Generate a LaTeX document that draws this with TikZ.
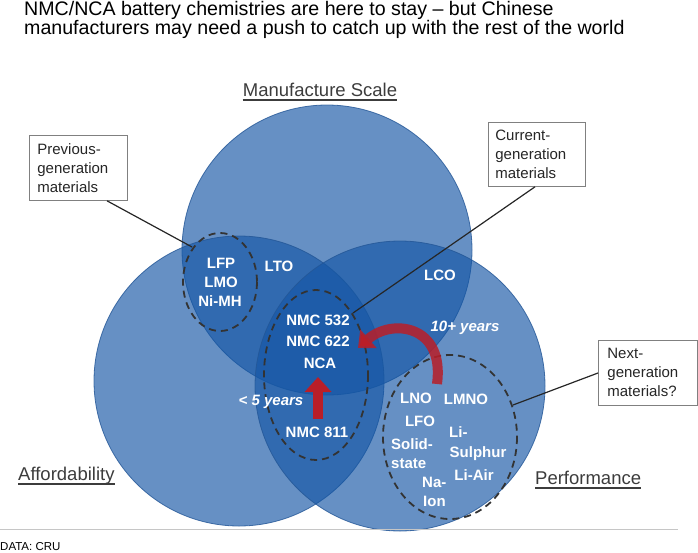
\documentclass[tikz,border=0pt]{standalone}
\usepackage{fontspec}
\setmainfont{Liberation Sans}
\usetikzlibrary{arrows.meta}
\definecolor{vblue}{RGB}{20,85,165}
\definecolor{vedge}{RGB}{35,85,150}
\definecolor{vred}{RGB}{185,30,40}
\definecolor{labgray}{RGB}{60,60,60}
\begin{document}
\begin{tikzpicture}[x=1pt,y=-1pt,
  venn/.style={fill=vblue,fill opacity=0.65,draw=vedge,draw opacity=0.8,line width=0.8pt},
  group/.style={draw=black!80,dash pattern=on 7pt off 5pt,line width=1.8pt},
  mat/.style={text=white,font=\fontsize{15}{17}\selectfont\bfseries,inner sep=0pt,anchor=base},
  yrs/.style={text=white,font=\fontsize{15}{17}\selectfont\bfseries\itshape,inner sep=0pt,anchor=base},
  callout/.style={draw=gray,fill=white,line width=0.8pt,align=left,
    font=\fontsize{15}{19}\selectfont,text=black!85,anchor=north west,inner ysep=0pt},
  lead/.style={draw=black!85,line width=1.2pt},
  axislab/.style={font=\fontsize{18.5}{20}\selectfont,text=labgray,inner sep=0pt,anchor=base},
  uline/.style={draw=labgray,line width=1.3pt},
  titlefont/.style={font=\fontsize{19.6}{18}\selectfont,text=black,inner sep=0pt,anchor=base west},
  redarrow/.style={draw=vred,line width=10pt}
]
\useasboundingbox (0,0) rectangle (698,552);

% title
\node[titlefont] (t1) at (24,15) {NMC/NCA battery chemistries are here to stay -- but Chinese};
\node[titlefont] (t2) at (24,34) {manufacturers may need a push to catch up with the rest of the world};

% venn circles
\draw[venn] (327,250) circle[radius=145];
\draw[venn] (239,381) circle[radius=145];
\draw[venn] (400,386) circle[radius=145];

% axis labels
\node[axislab] (ms) at (320,96) {Manufacture Scale};
\draw[uline] ([yshift=-4pt]ms.base west) -- ([yshift=-4pt]ms.base east);
\node[axislab,anchor=base west] (af) at (18,480) {Affordability};
\draw[uline] ([yshift=-4pt]af.base west) -- ([yshift=-4pt]af.base east);
\node[axislab,anchor=base west] (pf) at (535,484) {Performance};
\draw[uline] ([yshift=-4pt]pf.base west) -- ([yshift=-4pt]pf.base east);

% dashed groups
\draw[group] (220,282) ellipse[x radius=37,y radius=49];
\draw[group] (316,375) ellipse[x radius=52,y radius=85];
\draw[group] (450,437) ellipse[x radius=67,y radius=82];

% red arrows
\coordinate (a811) at (318,419);
\coordinate (anca) at (318,377);
\draw[redarrow,-{Triangle[width=26pt,length=15pt]}] (a811) -- (anca);
\coordinate (ctail) at (437,384);
\coordinate (chead) at (358,348);
\draw[redarrow,draw opacity=0.85,-{Triangle[width=24pt,length=14pt]}] (ctail) .. controls (445,325) and (392,318) .. (chead);

% materials
\node[mat] (lfp) at (221,268) {LFP};
\node[mat] (lmo) at (221,287) {LMO};
\node[mat] (nimh) at (220,306) {Ni-MH};
\node[mat] (lto) at (279,271) {LTO};
\node[mat] (lco) at (440,280) {LCO};
\node[mat] (n532) at (318,325) {NMC 532};
\node[mat] (n622) at (318,346) {NMC 622};
\node[mat] (nca) at (320,368) {NCA};
\node[mat] (n811) at (317,437) {NMC 811};
\node[yrs] (y5) at (271,405) {< 5 years};
\node[yrs] (y10) at (465,331) {10+ years};
\node[mat] (lno) at (416,403) {LNO};
\node[mat] (lmno) at (466,404) {LMNO};
\node[mat] (lfo) at (420,426) {LFO};
\node[mat,anchor=base west] (solid) at (391,449) {Solid-};
\node[mat,anchor=base west] (state) at (391,468) {state};
\node[mat,anchor=base west] (li) at (449,437) {Li-};
\node[mat] (sul) at (478,457) {Sulphur};
\node[mat] (liair) at (474,480) {Li-Air};
\node[mat,anchor=base west] (na) at (422,487) {Na-};
\node[mat,anchor=base west] (ion) at (423,506) {Ion};

% callouts
\node[callout,text width=82pt,inner xsep=8pt,minimum width=98pt,minimum height=65pt] (prev) at (29,135) {Previous-\\generation\\materials};
\node[callout,text width=83pt,inner xsep=7pt,minimum width=97pt,minimum height=64pt] (curr) at (488,122) {Current-\\generation\\materials};
\node[callout,text width=81pt,inner xsep=9pt,minimum width=99pt,minimum height=65pt] (next) at (598,340) {Next-\\generation\\materials?};

\coordinate (prevend) at (192,247);
\coordinate (currend) at (353,313);
\coordinate (nextend) at (513,405);
\draw[lead] (prev.south -| 107,0) -- (prevend);
\draw[lead] (curr.south -| 535,0) -- (currend);
\draw[lead] (next.west |- 0,373) -- (nextend);

% footer
\draw[gray!45,line width=1pt] (0,529) -- (678,529);
\node[font=\fontsize{11.5}{12}\selectfont,inner sep=0pt,anchor=base west] (data) at (0,550) {DATA: CRU};
\end{tikzpicture}
\end{document}
